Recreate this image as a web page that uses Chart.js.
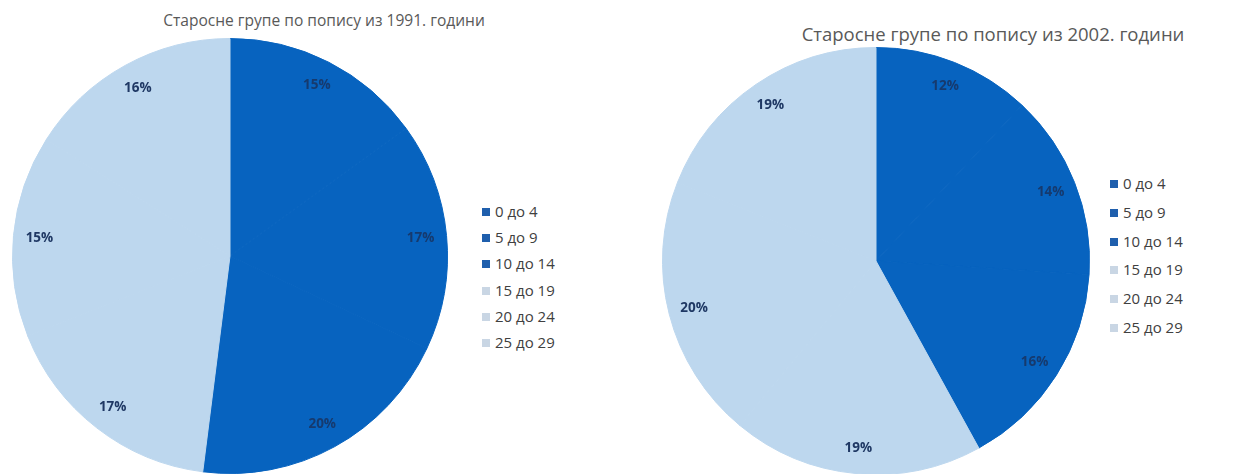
<!DOCTYPE html>
<html>
<head>
<meta charset="utf-8">
<script src="https://cdn.jsdelivr.net/npm/chart.js@4.4.1/dist/chart.umd.min.js"></script>
<style>
  body { margin: 0; background: #fff; width: 1234px; height: 474px; overflow: hidden; position: relative; font-family: "Open Sans", sans-serif; }
  canvas { position: absolute; }
  .title { position: absolute; color: #595959; white-space: nowrap; transform: translate(-50%, -50%); }
  .legend-item { position: absolute; color: #404040; font-size: 15px; white-space: nowrap; transform: translateY(-50%); }
  .legend-item span { display: inline-block; width: 8px; height: 8px; margin-right: 5px; vertical-align: 1px; }
</style>
</head>
<body>
<div class="title" id="title1"></div>
<div class="title" id="title2"></div>
<canvas id="pie1" width="436" height="436" style="left:12px; top:38px;"></canvas>
<canvas id="pie2" width="428" height="428" style="left:662px; top:47px;"></canvas>
<div id="legend1"></div>
<div id="legend2"></div>
<script>
// age groups and shares (%)
const ageGroups = ['0 до 4', '5 до 9', '10 до 14', '15 до 19', '20 до 24', '25 до 29'];
const shares1991 = [15, 17, 20, 17, 15, 16];
const shares2002 = [12, 14, 16, 19, 20, 19];
const sliceColors = ['#0763BF', '#0763BF', '#0763BF', '#BDD7EE', '#BDD7EE', '#BDD7EE'];
const legendColors = ['#1F5FAD', '#1F5FAD', '#1F5FAD', '#C9D6E4', '#C9D6E4', '#C9D6E4'];

const title1 = 'Старосне групе по попису из 1991. години';
const title2 = 'Старосне групе по попису из 2002. години';

// percentage labels drawn inside the slices
const pctLabels = {
    id: 'pctLabels',
    afterDatasetsDraw(chart) {
        const ctx = chart.ctx;
        const meta = chart.getDatasetMeta(0);
        const values = chart.data.datasets[0].data;
        ctx.save();
        ctx.font = 'bold 13.5px "Open Sans"';
        ctx.textAlign = 'center';
        ctx.textBaseline = 'middle';
        meta.data.forEach((arc, i) => {
            const mid = (arc.startAngle + arc.endAngle) / 2;
            const r = arc.outerRadius * 0.88;
            ctx.fillStyle = i < 3 ? '#163a6e' : '#1f3864';
            ctx.fillText(values[i] + '%', arc.x + Math.cos(mid) * r, arc.y + Math.sin(mid) * r);
        });
        ctx.restore();
    }
};

function makePie(id, values) {
    return new Chart(document.getElementById(id), {
        type: 'pie',
        data: {
            labels: ageGroups,
            datasets: [{
                data: values,
                backgroundColor: sliceColors,
                // stroke in the slice's own colour hides the seams between same-colour slices
                borderColor: sliceColors,
                borderWidth: 1
            }]
        },
        options: {
            responsive: false,
            animation: false,
            layout: { padding: 0 },
            plugins: {
                legend: { display: false },
                tooltip: { enabled: false }
            }
        },
        plugins: [pctLabels]
    });
}

makePie('pie1', shares1991);
makePie('pie2', shares2002);

// titles, sized to the width they have in the picture
function placeTitle(id, text, cx, cy, width) {
    const el = document.getElementById(id);
    const c = document.createElement('canvas').getContext('2d');
    c.font = '100px "Open Sans"';
    const size = 100 * width / c.measureText(text).width;
    el.textContent = text;
    el.style.fontSize = size + 'px';
    el.style.left = cx + 'px';
    el.style.top = cy + 'px';
}
placeTitle('title1', title1, 324, 20, 322);
placeTitle('title2', title2, 993, 33, 383);

// legends
function buildLegend(id, left, top, step) {
    const box = document.getElementById(id);
    ageGroups.forEach((label, i) => {
        const item = document.createElement('div');
        item.className = 'legend-item';
        item.style.left = left + 'px';
        item.style.top = (top + i * step) + 'px';
        item.innerHTML = '<span style="background:' + legendColors[i] + '"></span>' + label;
        box.appendChild(item);
    });
}
buildLegend('legend1', 482, 211, 26.2);
buildLegend('legend2', 1110, 183, 28.8);
</script>
</body>
</html>
